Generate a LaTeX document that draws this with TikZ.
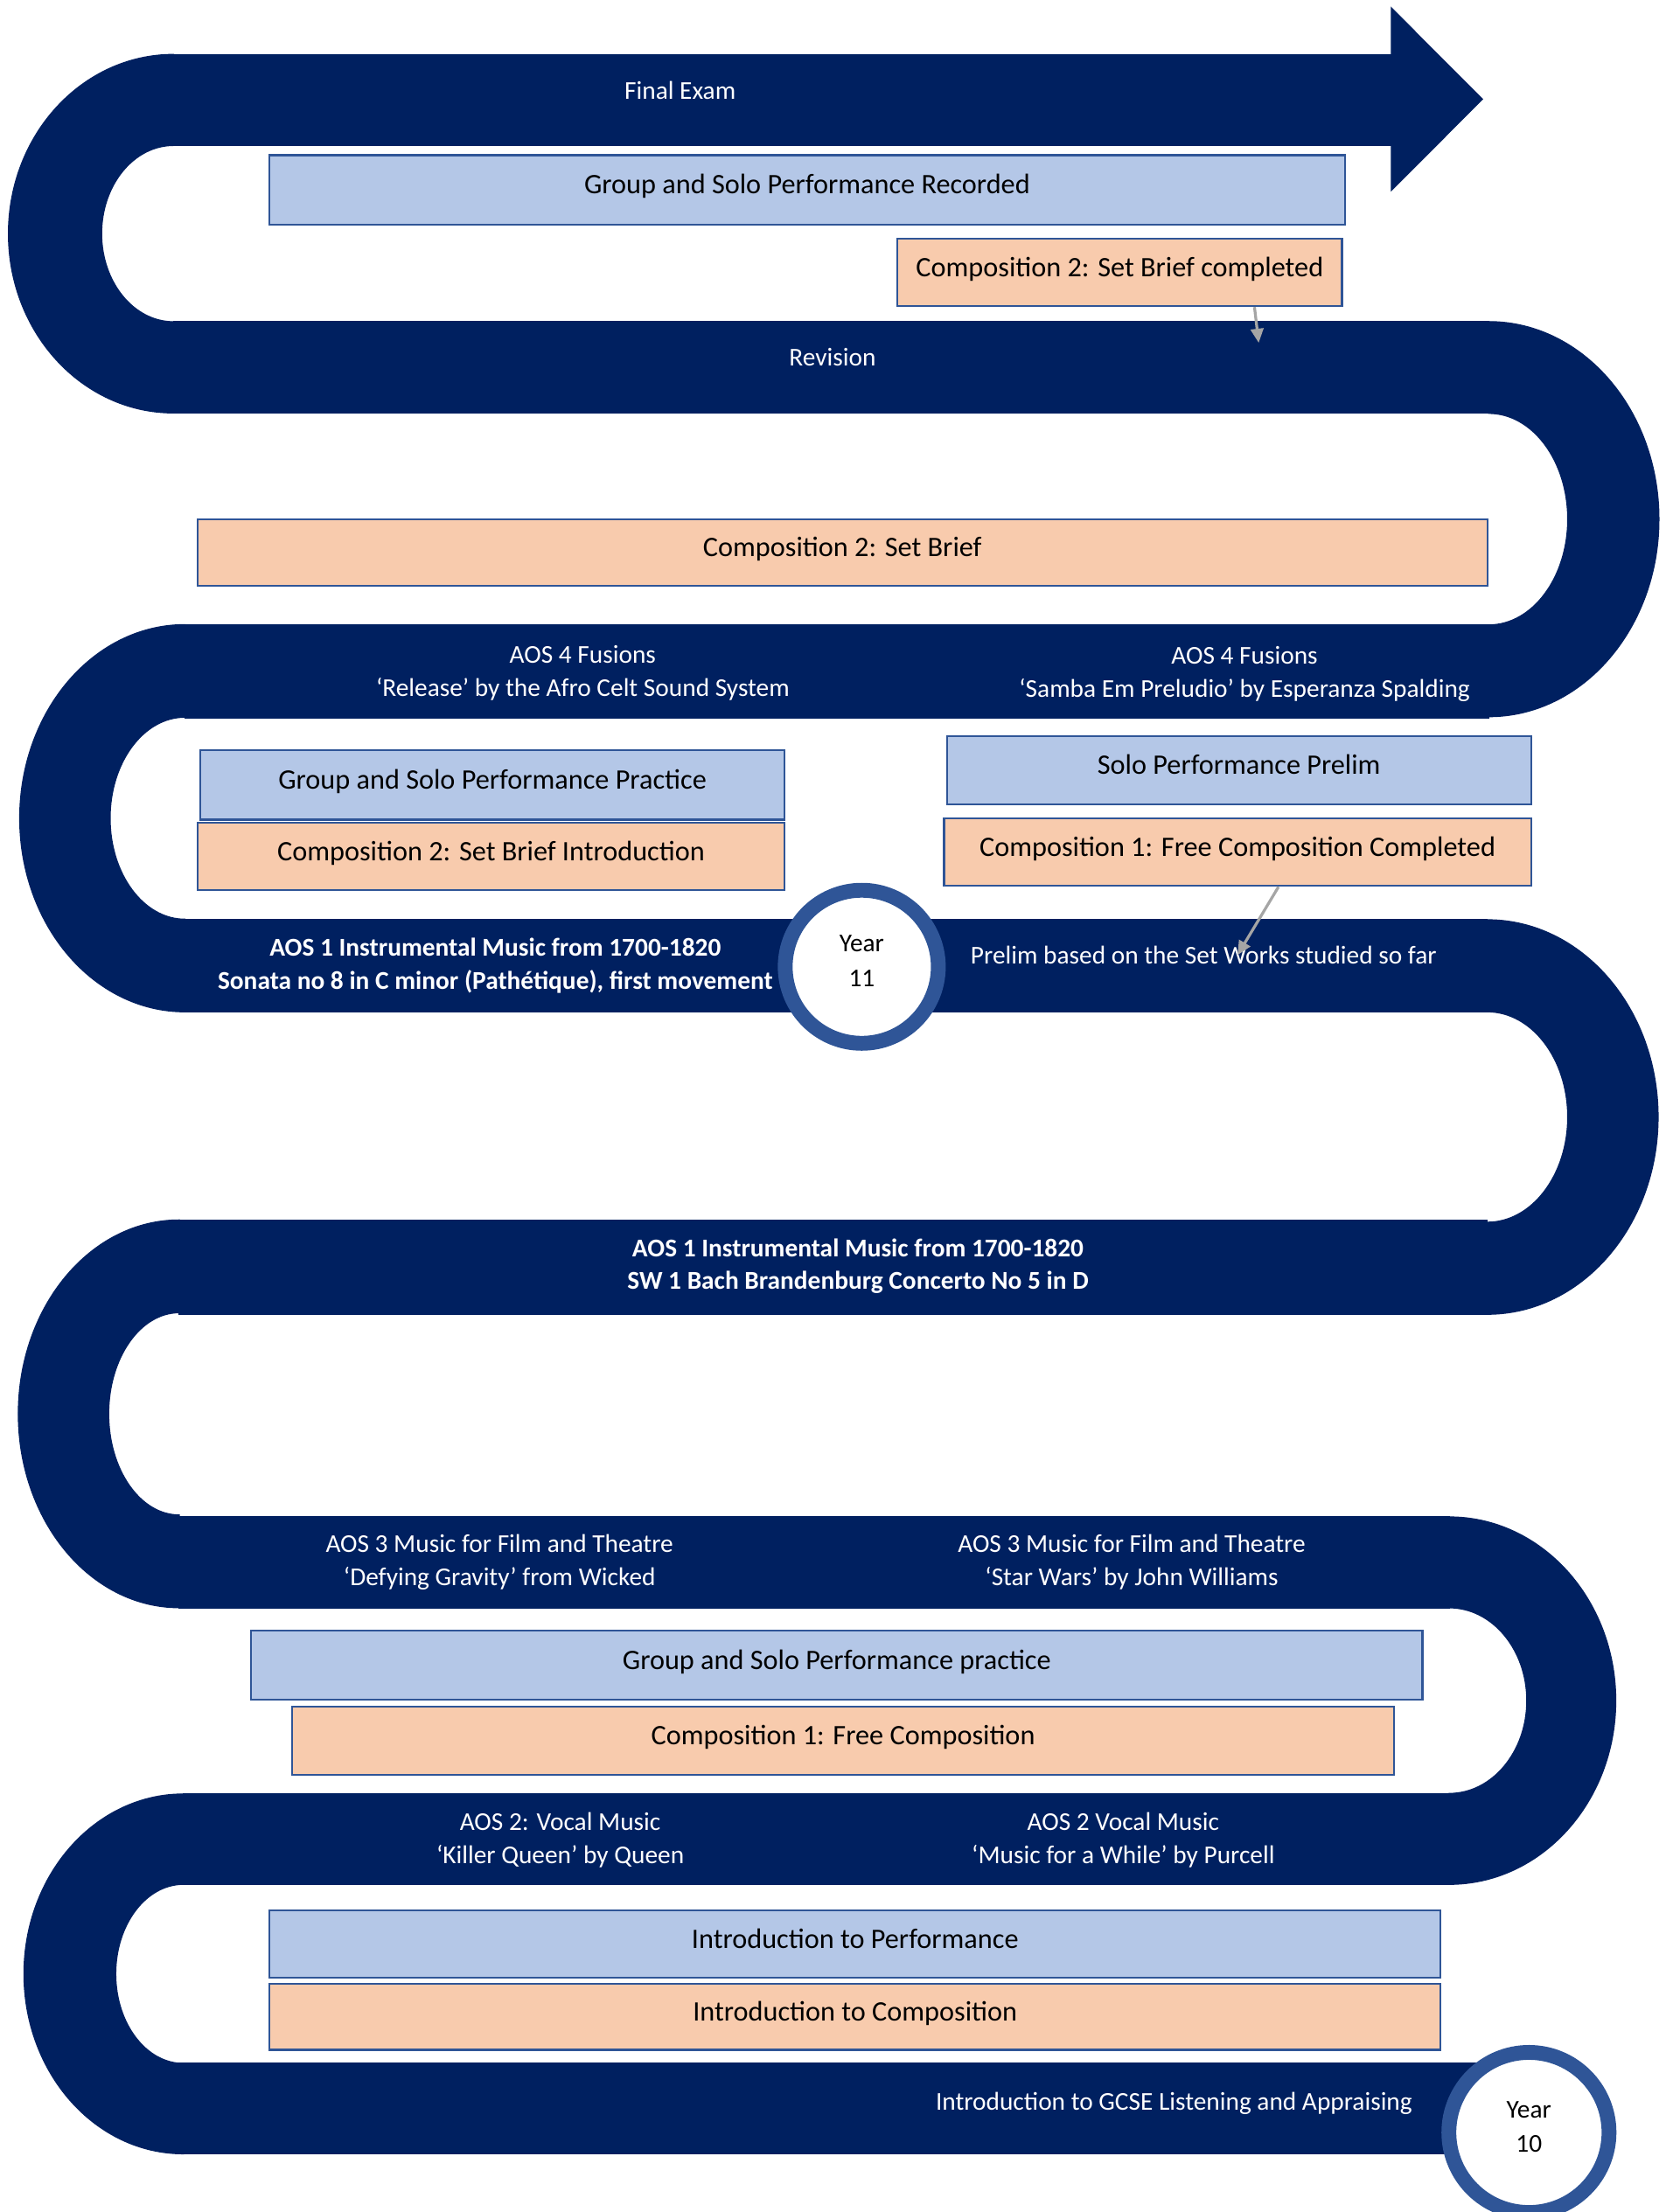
\documentclass[tikz,border=0pt]{standalone}
\usepackage{fontspec}
\setmainfont{Carlito}
\usetikzlibrary{arrows.meta}
\definecolor{navy}{HTML}{002060}
\definecolor{ringblue}{HTML}{2F5597}
\definecolor{bluefill}{HTML}{B4C7E7}
\definecolor{orangefill}{HTML}{F8CBAD}
\definecolor{arrowgray}{HTML}{A5A5A5}
\definecolor{boxedge}{HTML}{2F5597}
\begin{document}
\begin{tikzpicture}[x=1pt,y=-1pt,
  band/.style={fill=navy,draw=navy,line width=0.8pt},
  wtxt/.style={text=white,font=\fontsize{18.2pt}{23.5pt}\selectfont,align=center,inner sep=0pt},
  btxt/.style={text=white,font=\fontsize{18.2pt}{23.5pt}\selectfont\bfseries,align=center,inner sep=0pt},
  basebox/.style={draw=boxedge,line width=1.3pt,inner sep=0pt,text height=17.8pt,text depth=12pt,font=\fontsize{20pt}{24pt}\selectfont},
  pbox/.style={basebox,fill=bluefill},
  obox/.style={basebox,fill=orangefill},
  yearring/.style={circle,draw=ringblue,line width=10.5pt,fill=white,inner sep=0pt,align=center,font=\fontsize{18.2pt}{24.5pt}\selectfont},
  garrow/.style={draw=arrowgray,line width=2pt,-{Triangle[length=10pt,width=9pt]}}]
\useasboundingbox (0,0) rectangle (1185,1568);
% ---- the road ----
% band 1 with arrow head
\fill[band] (121,38.6) rectangle (986,103);
\fill[band] (986,5.6) -- (1050.5,70.3) -- (986,135) -- cycle;
% left turn 1
\fill[band] (123,38.6) arc[start angle=270,end angle=90,x radius=117,y radius=127.05] -- (123,228.1) arc[start angle=90,end angle=270,x radius=51,y radius=62.5] -- cycle;
% band 2
\fill[band] (123,228) rectangle (1055,292.7);
% right turn 1
\fill[band] (1055,228) arc[start angle=-90,end angle=90,x radius=120.6,y radius=140] -- (1055,443) arc[start angle=90,end angle=-90,x radius=56,y radius=75] -- cycle;
% band 3
\fill[band] (131,442.7) rectangle (1055,508.8);
% left turn 2
\fill[band] (131,442.8) arc[start angle=270,end angle=90,x radius=117,y radius=137.2] -- (131,651.6) arc[start angle=90,end angle=270,x radius=53,y radius=71.6] -- cycle;
% band 4
\fill[band] (131,652) rectangle (1054,717);
% right turn 2
\fill[band] (1054,652) arc[start angle=-90,end angle=90,x radius=121,y radius=139.8] -- (1054,866.4) arc[start angle=90,end angle=-90,x radius=57,y radius=74.6] -- cycle;
% band 5
\fill[band] (127,865) rectangle (1054,931.6);
% left turn 3
\fill[band] (127,864.8) arc[start angle=270,end angle=90,x radius=114,y radius=137.4] -- (127,1073.9) arc[start angle=90,end angle=270,x radius=50,y radius=71.7] -- cycle;
% band 6
\fill[band] (127,1075.3) rectangle (1027,1139.8);
% right turn 3
\fill[band] (1027,1075.3) arc[start angle=-90,end angle=90,x radius=118,y radius=130.2] -- (1027,1271.3) arc[start angle=90,end angle=-90,x radius=55,y radius=65.8] -- cycle;
% band 7
\fill[band] (130,1271.7) rectangle (1027,1335.6);
% left turn 4
\fill[band] (130,1271.7) arc[start angle=270,end angle=90,x radius=113,y radius=127.5] -- (130,1462.7) arc[start angle=90,end angle=270,x radius=48,y radius=63.5] -- cycle;
% band 8
\fill[band] (127,1462.6) rectangle (1050,1526.7);
% ---- boxes ----
\node[pbox,minimum width=762pt,minimum height=49pt] (perfrec) at (572,134.5) {Group and Solo Performance Recorded};
\node[obox,minimum width=315pt,minimum height=48pt] (c2done) at (793.5,193) {Composition 2: Set Brief completed};
\node[obox,minimum width=914pt,minimum height=47pt] (c2brief) at (597,391.5) {Composition 2: Set Brief};
\node[pbox,minimum width=414pt,minimum height=49pt] (gspract) at (349,556.5) {Group and Solo Performance Practice};
\node[obox,minimum width=416pt,minimum height=48pt] (c2intro) at (348,607) {Composition 2: Set Brief Introduction};
\node[pbox,minimum width=414pt,minimum height=48pt] (soloprelim) at (878,546) {Solo Performance Prelim};
\node[obox,minimum width=416pt,minimum height=48pt] (c1done) at (877,604) {Composition 1: Free Composition Completed};
\node[pbox,minimum width=830pt,minimum height=49pt] (gspract2) at (593,1180.5) {Group and Solo Performance practice};
\node[obox,minimum width=781pt,minimum height=48pt] (c1free) at (597.5,1234) {Composition 1: Free Composition};
\node[pbox,minimum width=830pt,minimum height=48pt] (introperf) at (606,1378) {Introduction to Performance};
\node[obox,minimum width=830pt,minimum height=47pt] (introcomp) at (606,1429.5) {Introduction to Composition};
% ---- arrows ----
\coordinate (a1end) at (892,243);
\coordinate (a2end) at (877,677);
\draw[garrow] ([xshift=95.5pt]c2done.south) -- (a1end);
% ---- road labels ----
\node[wtxt] (finalexam) at (482,64) {Final Exam};
\node[wtxt] (revision) at (590,253) {Revision};
\node[wtxt] (aos4a) at (413,477) {AOS 4 Fusions\\‘Release’ by the Afro Celt Sound System};
\node[wtxt] (aos4b) at (882,477.5) {AOS 4 Fusions\\‘Samba Em Preludio’ by Esperanza Spalding};
\node[btxt] (aos1a) at (351,684.5) {AOS 1 Instrumental Music from 1700-1820\\Sonata no 8 in C minor (Pathétique), first movement};
\node[wtxt] (prelim) at (853,677) {Prelim based on the Set Works studied so far};
\node[btxt] (aos1b) at (608,897.5) {AOS 1 Instrumental Music from 1700-1820\\SW 1 Bach Brandenburg Concerto No 5 in D};
\node[wtxt] (aos3a) at (354,1107.5) {AOS 3 Music for Film and Theatre\\‘Defying Gravity’ from Wicked};
\node[wtxt] (aos3b) at (802,1107.5) {AOS 3 Music for Film and Theatre\\‘Star Wars’ by John Williams};
\node[wtxt] (aos2a) at (397,1304.5) {AOS 2: Vocal Music\\‘Killer Queen’ by Queen};
\node[wtxt] (aos2b) at (796,1304.5) {AOS 2 Vocal Music\\‘Music for a While’ by Purcell};
\node[wtxt] (gcse) at (832,1491) {Introduction to GCSE Listening and Appraising};
\draw[garrow] ([xshift=29pt]c1done.south) -- (a2end);
% ---- year circles ----
\node[yearring,minimum size=108.5pt] (y11) at (610.7,685.3) {Year\\11\rule[-8pt]{0pt}{8pt}};
\node[yearring,minimum size=113.5pt] (y10) at (1083.5,1511.6) {Year\\10\rule[-8pt]{0pt}{8pt}};
\end{tikzpicture}
\end{document}
